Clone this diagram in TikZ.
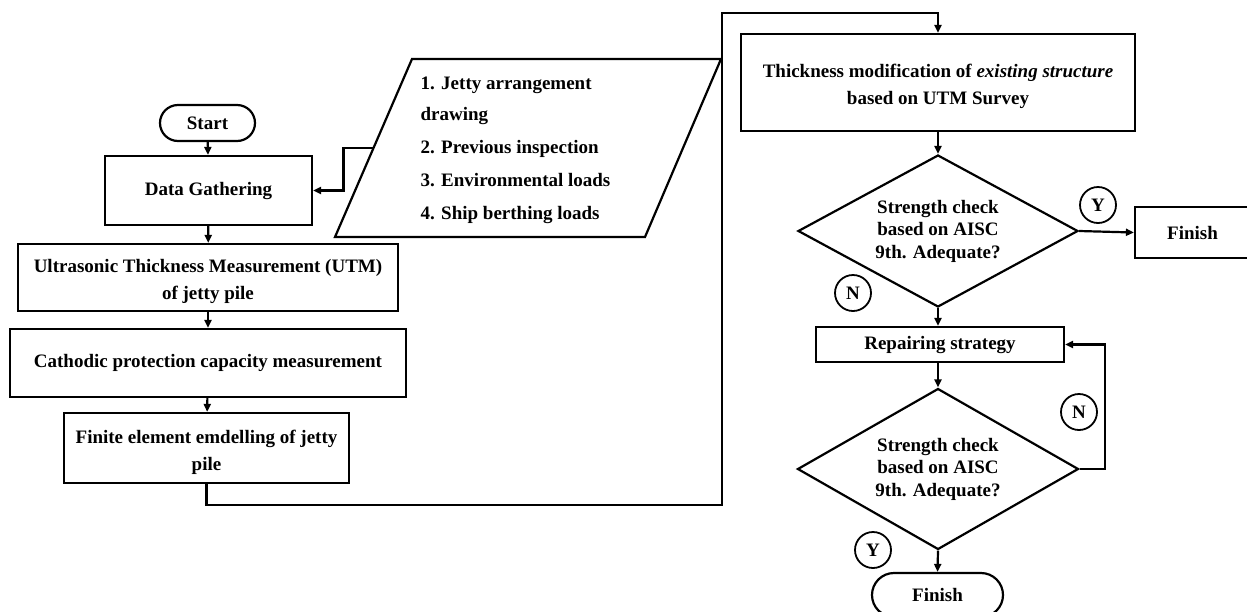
\documentclass[tikz,border=0pt]{standalone}
\usepackage{fontspec}
\setmainfont{Liberation Serif}
\usetikzlibrary{shapes.geometric,arrows.meta}
\newcommand{\lowered}[2]{\raisebox{0pt}[\dimexpr\height+8pt\relax]{\parbox{#1}{\centering #2}}}
\begin{document}
\begin{tikzpicture}[x=1pt, y=-1pt, line width=2.2pt,
        every node/.style={font=\fontsize{19}{27}\selectfont\bfseries, inner sep=0pt},
        box/.style={draw, rectangle, align=center},
        term/.style={draw, rectangle, rounded corners=18pt},
        decision/.style={draw, diamond, align=center, shape aspect=1.8, font=\fontsize{19}{22.5}\selectfont\bfseries},
        answer/.style={draw, circle, minimum size=36pt, line width=1.8pt},
        flow/.style={-{Triangle[length=8pt,width=7pt]}}]
        \useasboundingbox (0, 0) rectangle (1247, 611);
        % left column
        \node (start) [term, minimum width=95pt, minimum height=36pt] at (207.5, 123) {Start};
        \node (gather) [box, minimum width=207pt, minimum height=69pt] at (208.5, 190.5) {Data Gathering};
        \node (utm) [box, minimum width=380pt, minimum height=67pt] at (208, 277.5)
            {\lowered{370pt}{Ultrasonic Thickness Measurement (UTM)\\of jetty pile}};
        \node (cathodic) [box, minimum width=396pt, minimum height=68pt] at (208, 363)
            {Cathodic protection capacity measurement};
        \node (fem) [box, minimum width=285pt, minimum height=70pt] at (206.5, 448)
            {\lowered{275pt}{Finite element emdelling of jetty\\pile}};
        % input data
        \draw (412, 59) -- (721, 59) -- (645, 237) -- (335, 237) -- cycle;
        \coordinate (inputs) at (373.5, 148);
        \node (inputlist) [align=left, font=\fontsize{19}{33}\selectfont\bfseries] at (515.5, 150)
            {1. Jetty arrangement\\[-2pt]drawing\\2. Previous inspection\\3. Environmental loads\\4. Ship berthing loads};
        % right column
        \node (thick) [box, minimum width=394pt, minimum height=97pt] at (938, 82.5)
            {\lowered{384pt}{Thickness modification of \textit{existing structure}\\based on UTM Survey}};
        \node (check1) [decision, minimum width=280pt, minimum height=152pt] at (938, 231)
            {Strength check\\based on AISC\\9th. Adequate?};
        \node (finish1) [box, minimum width=115pt, minimum height=51pt] at (1192.5, 232.5) {Finish};
        \node (repair) [box, minimum width=248pt, minimum height=35pt] at (940, 344.5) {Repairing strategy};
        \node (check2) [decision, minimum width=281pt, minimum height=161pt] at (938, 469)
            {Strength check\\based on AISC\\9th. Adequate?};
        \node (finish2) [term, rounded corners=22pt, minimum width=131pt, minimum height=44pt] at (937.5, 595) {Finish};
        \node (y1) [answer] at (1098, 205) {Y};
        \node (n1) [answer] at (853, 293) {N};
        \node (n2) [answer] at (1079, 412) {N};
        \node (y2) [answer] at (873, 550) {Y};
        \coordinate (low) at (722, 505);
        \coordinate (high) at (722, 13);
        % connectors
        \draw [flow] (start) -- (gather);
        \draw [flow] (gather) -- (utm);
        \draw [flow] (utm) -- (cathodic);
        \draw [flow] (cathodic) -- (fem);
        \draw [flow] (inputs) -- ++(-30, 0) |- (gather.east);
        \draw [flow] (fem.south) |- (low) -- (high) -| (thick.north);
        \draw [flow] (thick) -- (check1);
        \draw [flow] (check1.east) -- (finish1.west);
        \draw [flow] (check1.south) -- (check1.south |- repair.north);
        \draw [flow] (repair.south -| check2.north) -- (check2.north);
        \draw [flow] (check2.east) -- ++(25, 0) |- (repair.east);
        \draw [flow] (check2.south) -- (finish2.north);
    \end{tikzpicture}
\end{document}
